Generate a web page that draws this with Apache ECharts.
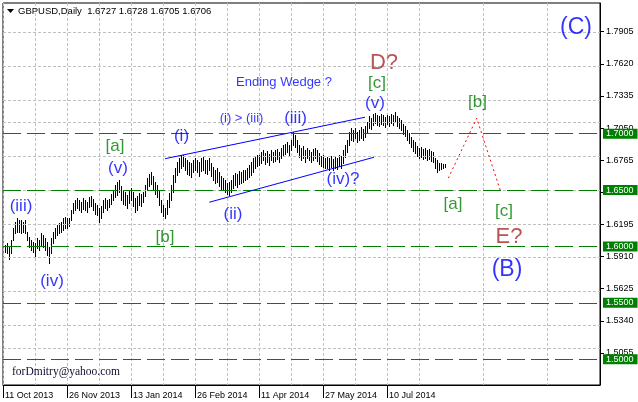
<!DOCTYPE html>
<html><head><meta charset="utf-8">
<script src="https://cdn.jsdelivr.net/npm/echarts@6/dist/echarts.min.js"></script>
<style>html,body{margin:0;padding:0;background:#fff}#c{width:638px;height:402px}</style>
</head><body><div id="c"></div>
<script>
const symbolName = 'GBPUSD,Daily';
const lastOHLC = [1.6727, 1.6728, 1.6705, 1.6706];
const dateLabels = ['11 Oct 2013','26 Nov 2013','13 Jan 2014','26 Feb 2014','11 Apr 2014','27 May 2014','10 Jul 2014'];
const priceTicks = [1.7905,1.7620,1.7335,1.7050,1.6765,1.6480,1.6195,1.5910,1.5625,1.5340,1.5055];
const levels = [1.7000,1.6500,1.6000,1.5500,1.5000];
const highs = [
1.6013,1.6030,1.5995,1.6057,1.6164,1.6217,1.6252,1.6235,1.6235,1.6217,
1.6235,1.6128,1.6084,1.6057,1.6039,1.6030,1.6075,1.6057,1.6119,1.6101,
1.6075,1.6039,1.5995,1.6075,1.6128,1.6164,1.6190,1.6208,1.6217,1.6252,
1.6261,1.6252,1.6252,1.6323,1.6385,1.6412,1.6430,1.6412,1.6394,1.6430,
1.6412,1.6394,1.6439,1.6447,1.6421,1.6385,1.6368,1.6341,1.6359,1.6412,
1.6430,1.6412,1.6421,1.6465,1.6501,1.6545,1.6572,1.6589,1.6536,1.6501,
1.6483,1.6456,1.6501,1.6518,1.6483,1.6430,1.6447,1.6474,1.6465,1.6483,
1.6545,1.6607,1.6643,1.6660,1.6625,1.6572,1.6545,1.6501,1.6412,1.6368,
1.6341,1.6412,1.6474,1.6545,1.6634,1.6696,1.6749,1.6785,1.6811,1.6811,
1.6785,1.6767,1.6749,1.6740,1.6767,1.6785,1.6767,1.6749,1.6785,1.6793,
1.6767,1.6767,1.6785,1.6740,1.6705,1.6678,1.6696,1.6660,1.6625,1.6607,
1.6589,1.6563,1.6572,1.6589,1.6634,1.6651,1.6643,1.6669,1.6660,1.6678,
1.6678,1.6696,1.6722,1.6749,1.6785,1.6802,1.6811,1.6811,1.6838,1.6856,
1.6829,1.6847,1.6820,1.6856,1.6838,1.6856,1.6864,1.6838,1.6873,1.6900,
1.6909,1.6926,1.6900,1.6944,1.7015,1.6989,1.6944,1.6900,1.6873,1.6891,
1.6856,1.6873,1.6856,1.6838,1.6864,1.6873,1.6856,1.6829,1.6802,1.6811,
1.6785,1.6793,1.6785,1.6802,1.6776,1.6793,1.6785,1.6811,1.6802,1.6856,
1.6900,1.6944,1.7015,1.7051,1.7033,1.7051,1.7015,1.7033,1.7060,1.7042,
1.7068,1.7104,1.7157,1.7139,1.7175,1.7184,1.7166,1.7157,1.7175,1.7166,
1.7148,1.7166,1.7157,1.7175,1.7166,1.7193,1.7157,1.7139,1.7122,1.7086,
1.7068,1.7033,1.7006,1.6971,1.6944,1.6926,1.6891,1.6873,1.6882,1.6864,
1.6873,1.6856,1.6864,1.6847,1.6838,1.6785,1.6767,1.6740,1.6740,1.6731,
1.6728];
const lows = [
1.5951,1.5942,1.5888,1.5942,1.6057,1.6119,1.6128,1.6128,1.6119,1.6128,
1.6119,1.6057,1.5995,1.5968,1.5951,1.5906,1.5986,1.5968,1.6013,1.5995,
1.5968,1.5924,1.5853,1.5942,1.6030,1.6075,1.6101,1.6119,1.6128,1.6146,
1.6164,1.6164,1.6181,1.6235,1.6297,1.6323,1.6341,1.6323,1.6305,1.6332,
1.6323,1.6305,1.6350,1.6359,1.6323,1.6288,1.6279,1.6217,1.6252,1.6305,
1.6341,1.6323,1.6350,1.6376,1.6412,1.6439,1.6456,1.6483,1.6412,1.6376,
1.6368,1.6341,1.6385,1.6412,1.6359,1.6305,1.6323,1.6368,1.6359,1.6394,
1.6447,1.6501,1.6536,1.6554,1.6501,1.6465,1.6439,1.6368,1.6305,1.6270,
1.6252,1.6288,1.6350,1.6412,1.6483,1.6572,1.6634,1.6660,1.6696,1.6714,
1.6678,1.6643,1.6634,1.6616,1.6660,1.6678,1.6660,1.6625,1.6669,1.6678,
1.6651,1.6643,1.6678,1.6625,1.6589,1.6563,1.6572,1.6536,1.6510,1.6501,
1.6483,1.6465,1.6456,1.6483,1.6518,1.6545,1.6527,1.6554,1.6563,1.6572,
1.6589,1.6598,1.6616,1.6634,1.6660,1.6696,1.6714,1.6722,1.6740,1.6767,
1.6731,1.6749,1.6722,1.6767,1.6749,1.6758,1.6776,1.6749,1.6785,1.6802,
1.6820,1.6838,1.6811,1.6856,1.6900,1.6882,1.6838,1.6793,1.6767,1.6785,
1.6749,1.6785,1.6767,1.6749,1.6767,1.6785,1.6758,1.6731,1.6714,1.6705,
1.6696,1.6696,1.6678,1.6705,1.6678,1.6696,1.6687,1.6714,1.6696,1.6740,
1.6793,1.6838,1.6900,1.6944,1.6935,1.6962,1.6926,1.6944,1.6962,1.6944,
1.6971,1.7006,1.7051,1.7042,1.7077,1.7095,1.7077,1.7068,1.7086,1.7077,
1.7060,1.7086,1.7068,1.7095,1.7077,1.7104,1.7068,1.7051,1.7033,1.6997,
1.6980,1.6944,1.6918,1.6882,1.6847,1.6829,1.6802,1.6785,1.6793,1.6776,
1.6785,1.6767,1.6776,1.6758,1.6749,1.6696,1.6660,1.6678,1.6687,1.6696,
1.6705];
// wave annotation anchors: [text, bar position, price, kind]
const waveLabels = [
['(C)',286.5,1.7938,'big'],
['D?',190.5,1.7627,'brown'],
['[c]',187,1.7450,'green'],
['(v)',186,1.7272,'blue'],
['Ending Wedge ?',140.5,1.7454,'note'],
['(i) > (iii)',119.25,1.7131,'note'],
['(iii)',146.25,1.7139,'blue'],
['(i)',89.25,1.6980,'blue'],
['[a]',56,1.6891,'green'],
['(v)',57.5,1.6696,'blue'],
['(iii)',9,1.6359,'blue'],
['(iv)',24.5,1.5694,'blue'],
['[b]',81,1.6084,'green'],
['(ii)',115,1.6288,'blue'],
['(iv)?',170,1.6598,'blue'],
['[b]',237.25,1.7281,'green'],
['[a]',225,1.6377,'green'],
['[c]',250.5,1.6314,'green'],
['E?',253,1.6084,'brown'],
['(B)',252,1.5791,'big']
];
const upperWedge = [[81,1.6778],[181,1.7146]];
const lowerWedge = [[103.15,1.6392],[185.5,1.6791]];
const projection = [[222.65,1.6605],[236.85,1.7137],[248.85,1.6486]];

const FONT = 'Liberation Sans';
const kindStyle = {
  big:{color:'#0000ff',fontSize:23},
  brown:{color:'#a52a2a',fontSize:22},
  green:{color:'#008000',fontSize:17},
  blue:{color:'#0000ff',fontSize:17},
  note:{color:'#0000ff',fontSize:13}
};
const barData = highs.map((h,i)=>[i+1,h,lows[i]]);
const labelTicks = dateLabels.map((d,i)=>i*32);

const chart = echarts.init(document.getElementById('c'), null, {renderer:'canvas'});
chart.setOption({
  animation:false,
  backgroundColor:'#fff',
  grid:{left:3,right:38,top:3,bottom:17,show:true,borderColor:'#000',borderWidth:1,backgroundColor:'#fff'},
  xAxis:{type:'value',min:0,max:298.5,interval:32,
    axisLine:{show:true,onZero:false,lineStyle:{color:'#000'}},
    axisTick:{show:true,length:13,customValues:labelTicks,lineStyle:{color:'#000'}},
    axisLabel:{customValues:labelTicks,formatter:v=>dateLabels[Math.round(v/32)]||'',align:'left',margin:6,padding:[0,0,0,2],fontSize:9,fontFamily:FONT,color:'#000'},
    splitLine:{show:true,lineStyle:{color:'#c0c0c0',type:[3,2]}},
    minorTick:{show:false,splitNumber:2},
    minorSplitLine:{show:true,lineStyle:{color:'#c0c0c0',type:[3,2]}}
  },
  yAxis:{type:'value',position:'right',min:1.4771,max:1.8159,scale:true,
    axisLine:{show:true,onZero:false,lineStyle:{color:'#000'}},
    axisTick:{show:true,length:4,customValues:priceTicks,lineStyle:{color:'#000'}},
    axisLabel:{customValues:priceTicks,formatter:v=>v.toFixed(4),margin:6,fontSize:9,fontFamily:FONT,color:'#000'},
    splitLine:{show:false}
  },
  series:[
    {type:'line',data:[],silent:true,z:1,
     markLine:{silent:true,symbol:['none','none'],label:{show:false},animation:false,
       lineStyle:{color:'#c0c0c0',type:[3,2],width:1},
       data:priceTicks.map(t=>({yAxis:t}))}},
    {type:'line',data:[],silent:true,z:3,
     markLine:{silent:true,symbol:['none','none'],animation:false,
       lineStyle:{color:'#008000',type:[18,6],width:1},
       label:{show:true,position:'end',distance:3,formatter:p=>Number(p.value).toFixed(4),
         backgroundColor:'#008000',color:'#fff',padding:[1,4,0,3],fontSize:9,fontFamily:FONT},
       data:levels.map(t=>({yAxis:t}))}},
    {type:'custom',data:barData,z:4,encode:{x:0,y:[1,2]},
     renderItem:(params,api)=>{
       const top=api.coord([api.value(0),api.value(1)]);
       const bot=api.coord([api.value(0),api.value(2)]);
       const x=Math.round(top[0])+0.5;
       return {type:'line',shape:{x1:x,y1:Math.round(top[1]),x2:x,y2:Math.round(bot[1])+1},style:{stroke:'#000',lineWidth:1}};
     }},
    {type:'line',data:upperWedge,symbol:'none',z:5,lineStyle:{color:'#0000ff',width:1}},
    {type:'line',data:lowerWedge,symbol:'none',z:5,lineStyle:{color:'#0000ff',width:1}},
    {type:'line',data:projection,symbol:'none',z:5,lineStyle:{color:'#ff0000',width:1,type:[2,3]}},
    {type:'scatter',z:6,symbolSize:1,itemStyle:{color:'rgba(0,0,0,0)'},
     label:{show:true,position:'inside',align:'center',verticalAlign:'middle',fontFamily:FONT},
     data:waveLabels.map(w=>({value:[w[1],w[2]],label:{formatter:w[0],color:kindStyle[w[3]].color,fontSize:kindStyle[w[3]].fontSize}}))}
  ],
  graphic:[
    {type:'polygon',shape:{points:[[7,9],[14,9],[10.5,13]]},style:{fill:'#000'},z:10},
    {type:'text',left:18,top:6,style:{text:symbolName+'  '+lastOHLC.map(v=>v.toFixed(4)).join(' '),font:'9.5px "Liberation Sans"',fill:'#000'},z:10},
    {type:'text',left:12,top:366,style:{text:'forDmitry@yahoo.com',font:'11.5px "Liberation Serif"',fill:'#101030'},z:10}
  ]
});
</script></body></html>
